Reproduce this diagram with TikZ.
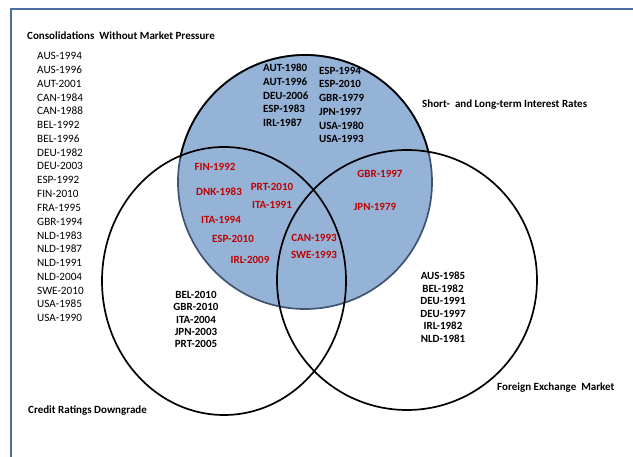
\documentclass[tikz,border=0pt]{standalone}
\usepackage{fontspec}
\setmainfont{Carlito}
\usetikzlibrary{shapes.geometric}
\definecolor{vblue}{RGB}{149,179,215}
\definecolor{vedge}{RGB}{62,84,112}
\definecolor{vred}{RGB}{192,0,0}
\definecolor{vframe}{RGB}{79,110,160}
\begin{document}
\begin{tikzpicture}[x=1pt,y=-1pt,
  ring/.style={draw=black, line width=1.7pt, inner sep=0pt, outer sep=0pt},
  plain/.style={font=\fontsize{11.2}{12}\selectfont, inner sep=0pt},
  lab/.style={font=\bfseries\fontsize{11}{12}\selectfont, inner sep=0pt},
  redlab/.style={lab, text=vred},
  head/.style={lab, anchor=west}]
\path[use as bounding box] (0,0) rectangle (633,457);
\fill[white] (0,0) rectangle (633,457);
\draw[vframe, line width=1.8pt] (11,457) -- (11,9) -- (633,9);

% circles
\node[circle, minimum size=254pt, fill=vblue, draw=vedge, line width=1.7pt, inner sep=0pt, outer sep=0pt] (ir) at (305,182) {};
\node[ellipse, minimum width=244pt, minimum height=268pt, ring] (cr) at (224,281) {};
\node[circle, minimum size=260pt, ring] (fx) at (407,280) {};
\draw[line width=1.7pt] (ir.13) arc[start angle=13, end angle=169, radius=127pt];

% headings
\node[head] (title) at (27,36) {Consolidations\ \ Without Market Pressure};
\node[head] (irt) at (422,105) {Short-\ \ and\ Long-term Interest Rates};
\node[head] (fxt) at (497,388) {Foreign Exchange\ \ Market};
\node[head] (crt) at (28,411) {Credit Ratings Downgrade};

% list without market pressure
\foreach \t [count=\i] in {AUS-1994,AUS-1996,AUT-2001,CAN-1984,CAN-1988,BEL-1992,BEL-1996,DEU-1982,DEU-2003,ESP-1992,FIN-2010,FRA-1995,GBR-1994,NLD-1983,NLD-1987,NLD-1991,NLD-2004,SWE-2010,USA-1985,USA-1990}
  \node[plain, anchor=west] (w\i) at (37,{42.2+13.79*\i}) {\t};

% interest rates only
\foreach \t [count=\i] in {AUT-1980,AUT-1996,DEU-2006,ESP-1983,IRL-1987}
  \node[lab, anchor=west] (a\i) at (263,{54.6+13.6*\i}) {\t};
\foreach \t [count=\i] in {ESP-1994,ESP-2010,GBR-1979,JPN-1997,USA-1980,USA-1993}
  \node[lab, anchor=west] (b\i) at (319,{57+13.7*\i}) {\t};

% red overlaps
\node[redlab] (r1) at (215,167) {FIN-1992};
\node[redlab] (r2) at (219,192) {DNK-1983};
\node[redlab] (r3) at (221,220) {ITA-1994};
\node[redlab] (r4) at (233,239) {ESP-2010};
\node[redlab] (r5) at (250,260) {IRL-2009};
\node[redlab] (r6) at (272,187) {PRT-2010};
\node[redlab] (r7) at (272,205) {ITA-1991};
\node[redlab] (r8) at (314,238) {CAN-1993};
\node[redlab] (r9) at (314,255) {SWE-1993};
\node[redlab] (r10) at (380,174) {GBR-1997};
\node[redlab] (r11) at (375,207) {JPN-1979};

% credit ratings only
\foreach \t [count=\i] in {BEL-2010,GBR-2010,ITA-2004,JPN-2003,PRT-2005}
  \node[lab] (c\i) at (196,{282.7+12.3*\i}) {\t};

% foreign exchange only
\foreach \t [count=\i] in {AUS-1985,BEL-1982,DEU-1991,DEU-1997,IRL-1982,NLD-1981}
  \node[lab] (f\i) at (443,{263.5+12.5*\i}) {\t};
\end{tikzpicture}
\end{document}
